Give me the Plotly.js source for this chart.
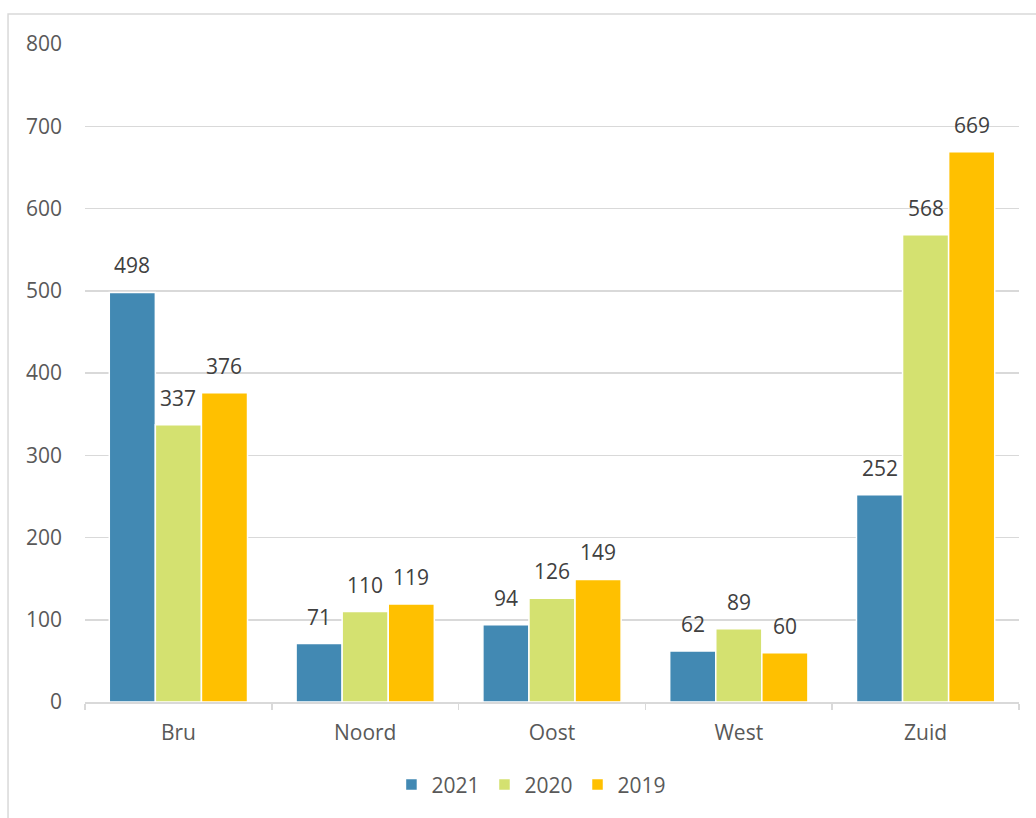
<!DOCTYPE html>
<html>
<head>
<meta charset="utf-8">
<script src="https://cdn.plot.ly/plotly-3.0.1.min.js"></script>
<style>
html,body{margin:0;padding:0;background:#fff;}
#chart{width:1036px;height:818px;}
</style>
</head>
<body>
<div id="chart"></div>
<script>
const categories = ["Bru", "Noord", "Oost", "West", "Zuid"];
const values2021 = [498, 71, 94, 62, 252];
const values2020 = [337, 110, 126, 89, 568];
const values2019 = [376, 119, 149, 60, 669];
const seriesNames = ["2021", "2020", "2019"];
const colors = ["#4289B3", "#D4E170", "#FFC000"];
const yTicks = [0, 100, 200, 300, 400, 500, 600, 700, 800];

const allValues = [values2021, values2020, values2019];

const W = 1036, H = 818;
const margin = {l: 85, r: 17, t: 44, b: 116};
const bargap = 0.26;
const plotW = W - margin.l - margin.r;
const barPx = plotW / categories.length * (1 - bargap) / allValues.length;
const FS = 21;

const traces = allValues.map((vals, i) => ({
  type: "bar",
  name: seriesNames[i],
  x: categories,
  y: vals,
  marker: {color: colors[i], line: {color: "#ffffff", width: 1.5}},
  hoverinfo: "x+y+name"
}));

const annotations = [];
allValues.forEach((vals, i) => {
  vals.forEach((v, j) => {
    annotations.push({
      x: categories[j], y: v, xref: "x", yref: "y",
      text: String(v), showarrow: false,
      xanchor: "center", yanchor: "middle",
      xshift: (i - (allValues.length - 1) / 2) * barPx,
      yshift: 27,
      font: {family: "Open Sans", size: FS, color: "#404040"}
    });
  });
});

const layout = {
  width: W,
  height: H,
  margin: margin,
  paper_bgcolor: "#ffffff",
  plot_bgcolor: "#ffffff",
  font: {family: "Open Sans", size: FS, color: "#595959"},
  barmode: "group",
  bargap: bargap,
  bargroupgap: 0,
  showlegend: true,
  legend: {
    orientation: "h",
    x: 0.478, xanchor: "center",
    y: -0.126, yanchor: "middle",
    font: {family: "Open Sans", size: FS, color: "#595959"},
    itemwidth: 30,
    traceorder: "normal"
  },
  annotations: annotations,
  xaxis: {
    type: "category",
    showgrid: false,
    showline: true,
    linecolor: "#d9d9d9",
    linewidth: 1.5,
    ticks: "outside",
    tickson: "boundaries",
    ticklen: 6,
    tickcolor: "#d9d9d9",
    tickwidth: 1.5,
    ticklabelstandoff: 11,
    tickfont: {family: "Open Sans", size: FS, color: "#595959"},
    zeroline: false
  },
  yaxis: {
    range: [0, 800],
    tickvals: yTicks,
    ticktext: yTicks.map(String),
    showgrid: true,
    gridcolor: "#d9d9d9",
    gridwidth: 1.5,
    showline: false,
    zeroline: false,
    ticks: "",
    ticklabelstandoff: 22,
    tickfont: {family: "Open Sans", size: FS, color: "#595959"}
  },
  shapes: [{
    type: "rect",
    xref: "paper", yref: "paper",
    x0: -0.0824, x1: 1.2,
    y0: -0.4, y1: 1.0456,
    line: {color: "#d9d9d9", width: 1.5},
    fillcolor: "rgba(0,0,0,0)",
    layer: "below"
  }]
};

Plotly.newPlot("chart", traces, layout, {displayModeBar: false, staticPlot: true});
</script>
</body>
</html>
